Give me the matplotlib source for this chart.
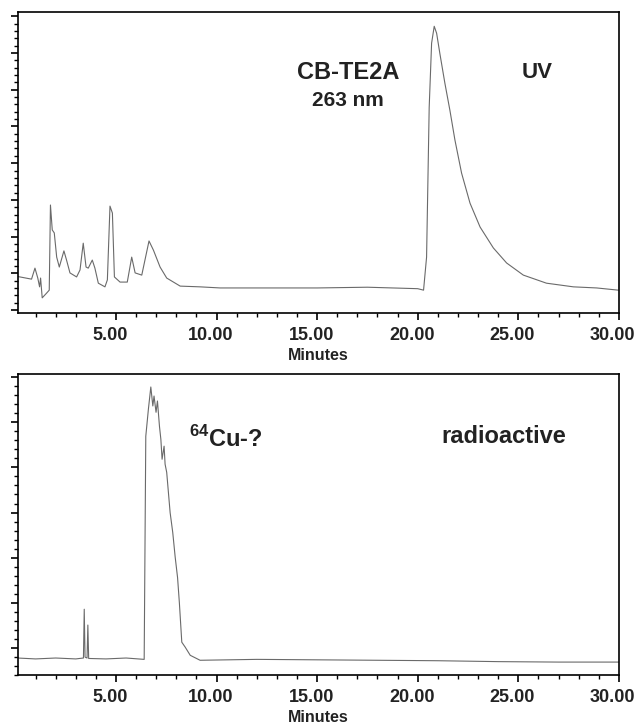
import matplotlib
matplotlib.use("Agg")
import matplotlib.pyplot as plt
import matplotlib.transforms as mtransforms
from matplotlib.ticker import MultipleLocator, FixedLocator

plt.rcParams["font.family"] = ["Liberation Sans", "DejaVu Sans"]
plt.rcParams["font.weight"] = "bold"
plt.rcParams["mathtext.fontset"] = "custom"
plt.rcParams["mathtext.rm"] = "Liberation Sans:bold"
plt.rcParams["mathtext.bf"] = "Liberation Sans:bold"

# UV trace (263 nm), minutes vs. detector signal (arbitrary units)
uv_time = [0.13, 0.80, 0.97, 1.11, 1.20, 1.25, 1.33, 1.55, 1.68, 1.74, 1.83, 1.93,
           2.05, 2.18, 2.41, 2.54, 2.71, 3.04, 3.21, 3.37, 3.51, 3.62, 3.82, 3.95,
           4.12, 4.45, 4.57, 4.70, 4.82, 4.92, 5.20, 5.56, 5.78, 5.95, 6.28, 6.64,
           6.86, 7.19, 7.52, 8.19, 9.18, 10.18, 12.5, 15.0, 17.5, 20.0, 20.29,
           20.44, 20.57, 20.69, 20.82, 20.94, 21.10, 21.35, 21.60, 21.85, 22.18,
           22.60, 23.10, 23.76, 24.42, 25.25, 26.40, 27.74, 28.90, 29.97]
uv_signal = [0.91, 0.84, 1.14, 0.87, 0.63, 0.87, 0.33, 0.46, 0.54, 2.86, 2.18, 2.10,
             1.44, 1.17, 1.61, 1.36, 1.01, 0.90, 1.09, 1.82, 1.17, 1.14, 1.36, 1.14,
             0.73, 0.63, 0.82, 2.83, 2.64, 0.90, 0.76, 0.76, 1.44, 1.01, 0.95, 1.88,
             1.63, 1.17, 0.87, 0.65, 0.63, 0.60, 0.60, 0.60, 0.62, 0.58, 0.54,
             1.44, 5.52, 7.27, 7.73, 7.54, 6.99, 6.18, 5.44, 4.63, 3.73,
             2.91, 2.26, 1.69, 1.28, 0.95, 0.73, 0.63, 0.60, 0.54]

# radioactivity trace
rad_time = [0.10, 1.0, 2.0, 3.0, 3.38, 3.42, 3.46, 3.56, 3.60, 3.64, 4.5, 5.5, 6.40,
            6.48, 6.61, 6.73, 6.83, 6.89, 6.99, 7.06, 7.16, 7.23, 7.29, 7.39, 7.44,
            7.52, 7.69, 7.82, 7.94, 8.06, 8.15, 8.27, 8.44, 8.69, 9.18, 12.0, 15.0,
            18.0, 21.0, 24.0, 27.0, 30.0]
rad_signal = [-0.22, -0.24, -0.22, -0.24, -0.22, 0.86, -0.20, -0.22, 0.51, -0.23, -0.24,
              -0.22, -0.25, 4.69, 5.29, 5.78, 5.36, 5.58, 5.22, 5.47, 4.91, 4.62, 4.18,
              4.47, 4.07, 3.89, 3.00, 2.56, 2.02, 1.56, 1.00, 0.13, 0.02, -0.16, -0.27,
              -0.25, -0.26, -0.27, -0.28, -0.30, -0.31, -0.31]

x_ticks = [5, 10, 15, 20, 25, 30]
x_tick_labels = ["5.00", "10.00", "15.00", "20.00", "25.00", "30.00"]

fig = plt.figure(figsize=(6.38, 7.26), dpi=100)
ax_uv = fig.add_axes([0.028, 0.569, 0.942, 0.414])
ax_rad = fig.add_axes([0.028, 0.070, 0.942, 0.415])

trace_color = "#6a6a6a"
ax_uv.plot(uv_time, uv_signal, color=trace_color, lw=0.8)
ax_rad.plot(rad_time, rad_signal, color=trace_color, lw=0.8)

ax_uv.set_ylim(-0.08, 8.11)
ax_rad.set_ylim(-0.60, 6.07)

txt_color = "#222222"
for ax in (ax_uv, ax_rad):
    ax.set_xlim(0.12, 30)
    ax.xaxis.set_major_locator(FixedLocator(x_ticks))
    ax.set_xticklabels(x_tick_labels, fontsize=13, fontweight="bold", color=txt_color)
    ax.xaxis.set_minor_locator(MultipleLocator(1))
    ax.yaxis.set_major_locator(MultipleLocator(1))
    ax.yaxis.set_minor_locator(MultipleLocator(0.2))
    ax.set_yticklabels([])
    ax.tick_params(axis="both", which="major", direction="out", length=5, width=1.2, pad=5)
    ax.tick_params(axis="both", which="minor", direction="out", length=3, width=1.0)
    for sp in ax.spines.values():
        sp.set_linewidth(1.2)
    ax.set_xlabel("Minutes", fontsize=11.5, fontweight="bold", color=txt_color, labelpad=3)

ax_uv.text(16.55, 6.48, "CB-TE2A", ha="center", va="center", fontsize=17,
           fontweight="bold", color=txt_color)
ax_uv.text(16.55, 5.71, "263 nm", ha="center", va="center", fontsize=15,
           fontweight="bold", color=txt_color)
ax_uv.text(25.96, 6.48, "UV", ha="center", va="center", fontsize=16,
           fontweight="bold", color=txt_color)
ax_rad.text(10.48, 4.62, r"$^{64}$Cu-?", ha="center", va="center", fontsize=17,
            fontweight="bold", color=txt_color)
ax_rad.text(24.27, 4.69, "radioactive", ha="center", va="center", fontsize=17,
            fontweight="bold", color=txt_color)

# tick labels in the original sit a few pixels left of their ticks
fig.canvas.draw()
shift = mtransforms.ScaledTranslation(-6 / 100, 0, fig.dpi_scale_trans)
for ax in (ax_uv, ax_rad):
    for tick in ax.xaxis.get_major_ticks():
        tick.label1.set_transform(tick.label1.get_transform() + shift)

fig.savefig("out.png", dpi=100)
